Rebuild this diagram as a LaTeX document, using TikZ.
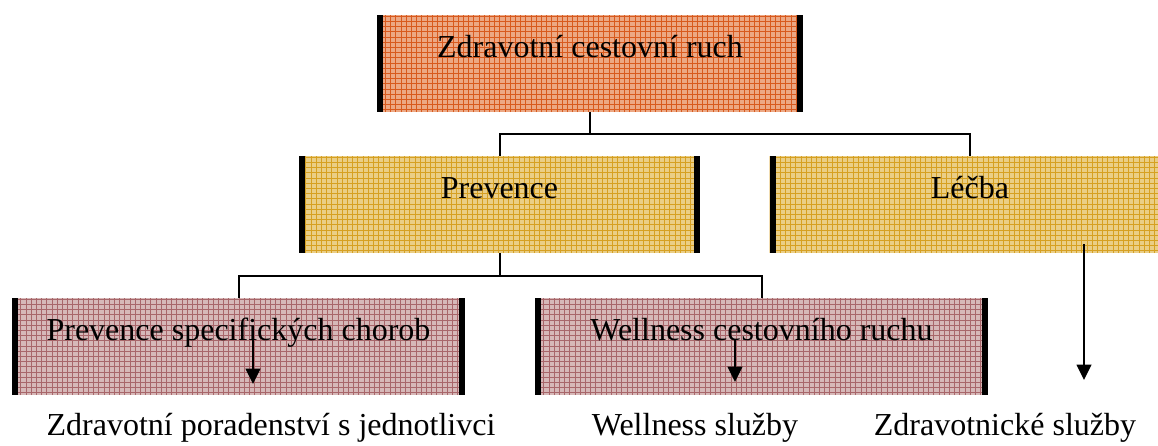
\documentclass[tikz,border=0pt]{standalone}
\usepackage{fontspec}
\setmainfont{Liberation Serif}
\usetikzlibrary{arrows.meta}

\definecolor{topfill}{RGB}{236,168,132}
\definecolor{topline}{RGB}{216,90,30}
\definecolor{midfill}{RGB}{234,206,134}
\definecolor{midline}{RGB}{214,160,34}
\definecolor{lowfill}{RGB}{214,184,184}
\definecolor{lowline}{RGB}{168,102,106}

\begin{document}
\begin{tikzpicture}[x=0.75pt, y=-0.75pt,
  box/.style = {minimum width=#1, inner xsep=0pt, inner ysep=0pt,
    text height=32pt, text depth=40.75pt, font=\fontsize{24}{28}\selectfont},
  hatch/.style 2 args = {fill=#1, path picture={
    \draw[#2, line width=0.35pt] (path picture bounding box.south west)
      grid[step=3.9pt] (path picture bounding box.north east);
    \fill[black] (path picture bounding box.south west)
      rectangle ([xshift=4.5pt]path picture bounding box.north west);
    \fill[black] (path picture bounding box.south east)
      rectangle ([xshift=-4.5pt]path picture bounding box.north east);}},
  lbl/.style = {anchor=base, inner sep=0pt, font=\fontsize{24}{28}\selectfont},
  tree/.style = {line width=1.5pt},
  arr/.style = {line width=1.2pt, -{Triangle[width=11pt, length=11.5pt]}}]
\path[use as bounding box, clip] (0,0) rectangle (1158,446);

%% boxes
\node[box=319.5pt, hatch={topfill}{topline}] (zcr) at (590,63.5) {Zdravotní cestovní ruch};
\node[box=300.75pt, hatch={midfill}{midline}] (prev) at (499.5,204.5) {Prevence};
\node[box=300.75pt, hatch={midfill}{midline}] (lecba) at (970,204.5) {Léčba};
\node[box=339.75pt, hatch={lowfill}{lowline}] (psc) at (238.5,346.5) {Prevence specifických chorob};
\node[box=339.75pt, hatch={lowfill}{lowline}] (wcr) at (761.5,346.5) {Wellness cestovního ruchu};

%% labels
\node[lbl] (zpj) at (271,435) {Zdravotní poradenství s jednotlivci};
\node[lbl] (wsl) at (695,435) {Wellness služby};
\node[lbl] (zsl) at (1005,435) {Zdravotnické služby};

%% arrow ends
\coordinate (psc1) at (253,340);
\coordinate (psc2) at (253,384);
\coordinate (wcr1) at (735,340);
\coordinate (wcr2) at (735,382);
\coordinate (lec1) at (1084,244);
\coordinate (lec2) at (1084,380);

%% edges
\draw[tree] (zcr.south) -- ++(0,22) -| (prev.north);
\draw[tree] (zcr.south) ++(0,22) -| (lecba.north);
\draw[tree] (prev.south) -- ++(0,23) -| (psc.north);
\draw[tree] (prev.south) ++(0,23) -| (wcr.north);
\draw[arr] (psc1) -- (psc2);
\draw[arr] (wcr1) -- (wcr2);
\draw[arr] (lec1) -- (lec2);

\end{tikzpicture}
\end{document}
